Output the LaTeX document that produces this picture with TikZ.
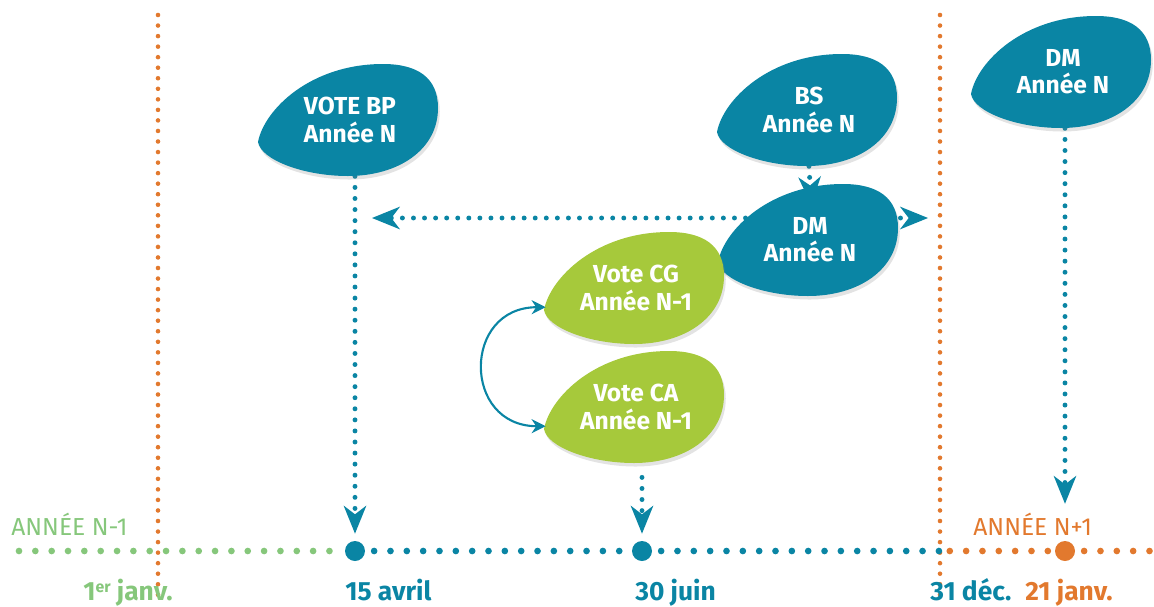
\documentclass[tikz,border=0pt]{standalone}
\usepackage{fontspec}
\setmainfont{Fira Sans}
\usepackage{tikz}
\usetikzlibrary{arrows.meta, backgrounds, shadows}

\definecolor{votebleu}{HTML}{0A85A4}
\definecolor{vertbulle}{HTML}{A6C93B}
\definecolor{vertclair}{HTML}{86C77B}
\definecolor{orangeN}{HTML}{E2792E}

% bubble filled at #1 in colour #2
\newcommand\bulle[2]{\fill[#2, drop shadow={opacity=.22, shadow xshift=1pt, shadow yshift=-2pt}, shift={#1}]
	(-92,22) .. controls (-86,-10) and (-40,-56) .. (33,-56)
	.. controls (68,-56) and (88,-42) .. (88,-12)
	.. controls (88,30) and (48,56) .. (-2,56)
	.. controls (-46,56) and (-89,40) .. (-92,22) -- cycle;}

\begin{document}
\begin{tikzpicture}[x=0.02cm, y=-0.02cm, >={Stealth[length=16pt, width=13pt, inset=5pt, line width=0pt]},
	bulle/.style={rectangle, minimum width=3.6cm, minimum height=2.24cm, inner sep=0pt, text=white, align=center, font=\bfseries\fontsize{14}{15.5}\selectfont},
	gros point/.style={circle, minimum size=0.4cm, inner sep=0pt},
	date/.style={anchor=base west, inner sep=0pt, font=\bfseries\fontsize{15}{15}\selectfont},
	annee/.style={anchor=base west, inner sep=0pt, font=\fontsize{14}{14}\selectfont},
	frise/.style={line width=3.8pt, line cap=round, dash pattern=on 0pt off 9.3pt},
	limite/.style={orangeN, line width=2.6pt, line cap=round, dash pattern=on 0pt off 6pt},
	fleche/.style={votebleu, line width=2.8pt, line cap=round, dash pattern=on 0pt off 6.3pt},
	boucle/.style={votebleu, line width=1.2pt, {Stealth[length=8pt, width=8pt]}-{Stealth[length=8pt, width=8pt]}}]
	\useasboundingbox (0,0) rectangle (1154,606);

	% year limits
	\draw[limite] (158,15) -- (158,598);
	\draw[limite] (940,15) -- (940,598);

	% time line
	\node[gros point, fill=votebleu] (avril) at (355,551) {};
	\node[gros point, fill=votebleu] (juin) at (642,551) {};
	\node[gros point, fill=orangeN] (janv21) at (1065,551) {};
	\coordinate (debut) at (19,551);
	\coordinate (dec31) at (941,551);
	\coordinate (fin) at (1154,551);
	\draw[frise, vertclair] (debut) -- (avril.west);
	\draw[frise, votebleu, shorten <=5pt] (avril.east) -- (juin.west);
	\draw[frise, votebleu, shorten <=5pt] (juin.east) -- (dec31);
	\draw[frise, orangeN, shorten <=5pt] (dec31) -- (janv21.west);
	\draw[frise, orangeN, shorten <=5pt] (janv21.east) -- (fin);

	\node[annee, vertclair] (n1) at (11,535) {ANNÉE N-1};
	\node[annee, orangeN] (n2) at (973,535) {ANNÉE N+1};

	\node[date, vertclair] (t1) at (83,600) {1{\fontsize{9}{9}\selectfont\raisebox{4pt}{er}} janv.};
	\node[date, votebleu] (t2) at (345,600) {15 avril};
	\node[date, votebleu] (t3) at (635,600) {30 juin};
	\node[date, votebleu] (t4) at (930,600) {31 déc.};
	\node[date, orangeN] (t5) at (1025,600) {21 janv.};

	% bubbles
	\bulle{(350,120)}{votebleu}
	\node[bulle] (votebp) at (350,120) {VOTE BP\\Année N};
	\bulle{(809,110)}{votebleu}
	\node[bulle] (bs) at (809,110) {BS\\Année N};
	\bulle{(810,240)}{votebleu}
	\node[bulle] (dm) at (810,240) {DM\\Année N};
	\bulle{(1063,72)}{votebleu}
	\node[bulle] (dmsuivant) at (1063,72) {DM\\Année N};
	\bulle{(636,288)}{vertbulle}
	\node[bulle] (cg) at (636,288) {Vote CG\\Année N-1};
	\bulle{(636,407)}{vertbulle}
	\node[bulle] (ca) at (636,407) {Vote CA\\Année N-1};

	\coordinate (dmgauche) at (372,218);
	\coordinate (dmdroite) at (928,218);

	\begin{scope}[on background layer]
		\draw[fleche, ->, shorten >=4pt] (votebp.south -| avril) -- (avril.north);
		\draw[fleche, ->, shorten <=8pt, shorten >=4pt] (ca.south -| juin) -- (juin.north);
		\draw[fleche, ->, shorten >=21pt] (dmsuivant.south -| janv21) -- (janv21.north);
		\draw[fleche, ->, shorten >=-12pt] (bs.south) -- (dm.north);
		\draw[fleche, <->] (dmgauche) -- (dmdroite);
	\end{scope}
	\draw[boucle] (cg.192) to[out=180, in=180, looseness=1.8] (ca.192);
\end{tikzpicture}
\end{document}
